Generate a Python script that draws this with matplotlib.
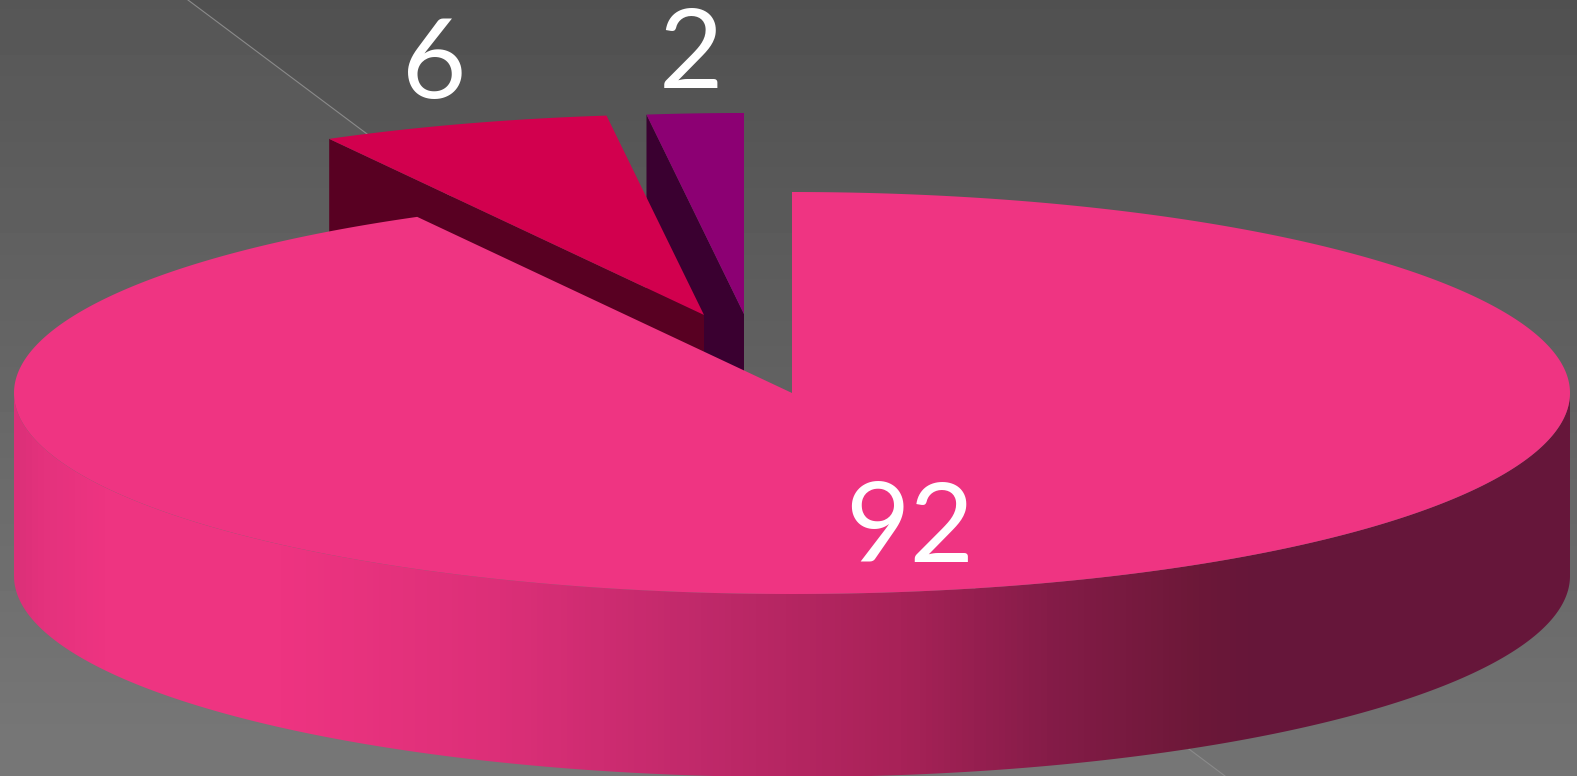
import numpy as np
import matplotlib
matplotlib.use('Agg')
import matplotlib.pyplot as plt
from matplotlib.colors import LinearSegmentedColormap
from matplotlib.patches import Polygon

# chart values
labels = ['92', '6', '2']
values = [92, 6, 2]

# colours of the top faces and of the cut faces
top_colors = ['#ef3482', '#d2004e', '#8c0073']
wall_colors = [None, '#580022', '#3a0030']

# shift of each exploded slice, in pixels
offsets = [(0, 0), (-88, -78), (-48, -79)]
label_pos = [(910, 531), (434, 67), (691, 57)]

# pie geometry in pixels
cx, cy = 792, 393
rx, ry = 778, 201
depth = 183

# shading of the outer wall, left to right (x pixel, colour)
side_x = [14, 40, 100, 280, 500, 700, 900, 1050, 1200, 1260, 1570]
side_c = ['#dc3079', '#e4327d', '#ee3481', '#ee3481', '#dc2f78', '#c0296a',
          '#a82258', '#851c48', '#6c1838', '#66163a', '#66163a']

W, H = 1577, 776
fig = plt.figure(figsize=(W / 100, H / 100), dpi=100)
ax = fig.add_axes([0, 0, 1, 1])
ax.set_xlim(0, W)
ax.set_ylim(H, 0)
ax.axis('off')

# background gradient
grey = np.linspace(0.315, 0.45, 256).reshape(-1, 1)
ax.imshow(grey, cmap='gray', vmin=0, vmax=1, extent=[0, W, H, 0], aspect='auto', zorder=0)

# lighter band below the diagonal line
ax.add_patch(Polygon([(188, 0), (1225, H), (0, H), (0, 0)], closed=True,
                     facecolor='white', alpha=0.035, edgecolor='none', zorder=1))
ax.plot([188, 1225], [0, H], color='#8a8a8a', lw=0.8, zorder=1)


def ellipse(t, dx=0, dy=0):
    return cx + dx + rx * np.sin(t), cy + dy - ry * np.cos(t)


# slice angles, clockwise from the top
fracs = np.array(values) / sum(values)
ends = np.cumsum(fracs) * 2 * np.pi
starts = ends - fracs * 2 * np.pi

# exploded slices first, the big one goes on top of them
for i in [2, 1]:
    dx, dy = offsets[i]
    t = np.linspace(starts[i], ends[i], 60)
    x, y = ellipse(t, dx, dy)
    ax_, ay_ = cx + dx, cy + dy
    # cut face along the first radial edge
    ax.fill([x[0], ax_, ax_, x[0]], [y[0], ay_, ay_ + depth, y[0] + depth],
            color=wall_colors[i], lw=0, zorder=2 + (2 - i) * 2)
    ax.fill(np.r_[ax_, x], np.r_[ay_, y], color=top_colors[i], lw=0, zorder=3 + (2 - i) * 2)

# outer wall of the big slice
t = np.linspace(np.pi / 2, 3 * np.pi / 2, 300)
x, y = ellipse(t)
wall = Polygon(np.c_[np.r_[x, x[::-1]], np.r_[y, y[::-1] + depth]], closed=True,
               facecolor='none', edgecolor='none', transform=ax.transData)
ax.add_patch(wall)
cmap = LinearSegmentedColormap.from_list(
    'side', [((v - side_x[0]) / (side_x[-1] - side_x[0]), c) for v, c in zip(side_x, side_c)])
im = ax.imshow(np.linspace(0, 1, 512).reshape(1, -1), cmap=cmap, vmin=0, vmax=1,
               extent=[side_x[0], side_x[-1], H + 20, cy], aspect='auto', zorder=8)
im.set_clip_path(wall)

# top of the big slice
t = np.linspace(starts[0], ends[0], 500)
x, y = ellipse(t)
ax.fill(np.r_[cx, x], np.r_[cy, y], color=top_colors[0], lw=0, zorder=9)

ax.set_xlim(0, W)
ax.set_ylim(H, 0)

for lab, (lx, ly) in zip(labels, label_pos):
    ax.text(lx, ly, lab, color='white', fontsize=80, family='Lato', ha='center',
            va='center', zorder=10)

fig.savefig('out.png', dpi=100)
